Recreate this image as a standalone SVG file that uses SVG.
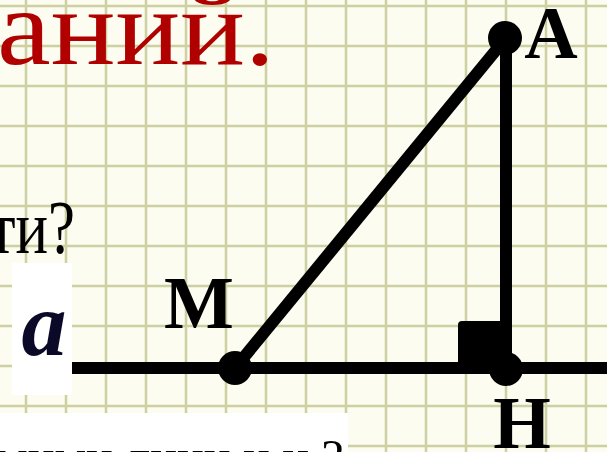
<svg xmlns="http://www.w3.org/2000/svg" width="607" height="452" viewBox="0 0 607 452">
<defs>
<style>
.lbl{font-family:"Liberation Serif","Times New Roman",serif;font-weight:bold;font-size:74px;fill:#000;text-anchor:middle}
.seg{stroke:#000;stroke-width:12;stroke-linecap:butt;fill:none}
.dot{fill:#000}
.serif{font-family:"Liberation Serif","Times New Roman",serif}
</style>
<pattern id="g" x="0" y="0" width="40" height="40" patternUnits="userSpaceOnUse">
<rect width="40" height="40" fill="#fcfcf0"/>
<line x1="26" y1="0" x2="26" y2="40" stroke="#cfd0a2" stroke-width="2.5"/>
<line x1="0" y1="6" x2="40" y2="6" stroke="#cfd0a2" stroke-width="2.5"/>
</pattern>
<clipPath id="cb"><rect x="0" y="413" width="348" height="39"/></clipPath>
</defs>
<rect id="background" width="607" height="452" fill="url(#g)"/>
<g id="title">
<text class="serif" transform="translate(-3,64) scale(1.12,1)" x="0" y="0" font-size="108" fill="#b00000">аний.</text>
</g>
<g id="question">
<text class="serif" transform="translate(75,253) scale(0.8,1)" x="0" y="0" font-size="76" fill="#000" text-anchor="end">ти?</text>
</g>
<g id="line-a-label">
<rect x="12" y="263" width="60" height="132" fill="#ffffff"/>
<text class="serif" x="44" y="355" font-size="90" font-weight="bold" font-style="italic" fill="#0a0a28" text-anchor="middle">a</text>
</g>
<g id="bottom-text">
<rect x="0" y="413" width="348" height="39" fill="#ffffff"/>
<text class="serif" x="-4" y="474" clip-path="url(#cb)" font-size="50" fill="#000">мими лини и н ?</text>
</g>
<g id="connectors">
<line class="seg" x1="72" y1="368" x2="607" y2="368"/>
<line class="seg" x1="506" y1="38" x2="506" y2="368"/>
<line class="seg" x1="235" y1="368" x2="506" y2="38"/>
<path d="M458,325 Q458,321 462,321 L506,321 L506,368 L458,368 Z" fill="#000"/>
</g>
<g id="node-A">
<circle class="dot" cx="505" cy="38" r="17"/>
<text class="lbl" x="551" y="58">A</text>
</g>
<g id="node-M">
<circle class="dot" cx="235" cy="368" r="17"/>
<text class="lbl" x="199" y="328">M</text>
</g>
<g id="node-H">
<circle class="dot" cx="506" cy="369" r="17"/>
<text class="lbl" x="522" y="448">H</text>
</g>
</svg>
